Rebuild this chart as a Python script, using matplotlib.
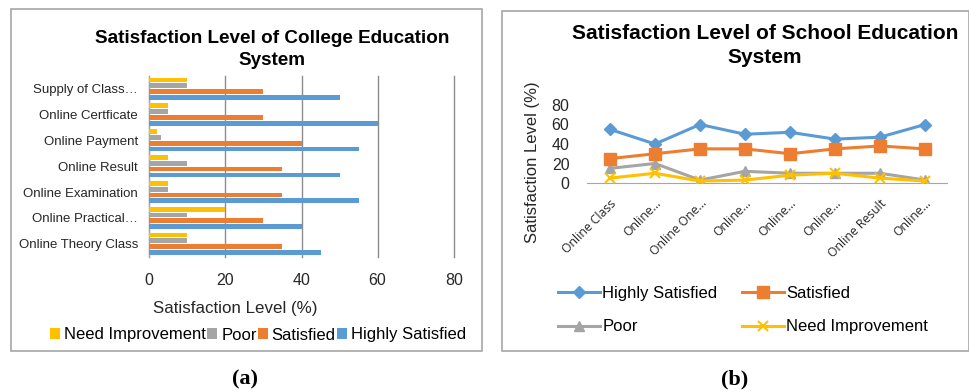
"""
two-panel satisfaction chart: college (bars) and school (lines)
"""

import numpy as np
import matplotlib
matplotlib.use('Agg')
import matplotlib.pyplot as plt
from matplotlib.patches import Rectangle

plt.rcParams['font.family'] = ['Liberation Sans', 'DejaVu Sans']

# college data (bottom to top)
college_cats = ['Online Theory Class', 'Online Practical\u2026', 'Online Examination',
                'Online Result', 'Online Payment', 'Online Certficate', 'Supply of Class\u2026']
college_hs = [45, 40, 55, 50, 55, 60, 50]
college_sat = [35, 30, 35, 35, 40, 30, 30]
college_poor = [10, 10, 5, 10, 3, 5, 10]
college_ni = [10, 20, 5, 5, 2, 5, 10]

# school data
school_cats = ['Online Class', 'Online\u2026', 'Online One\u2026', 'Online\u2026',
               'Online\u2026', 'Online\u2026', 'Online Result', 'Online\u2026']
school_hs = [55, 40, 60, 50, 52, 45, 47, 60]
school_sat = [25, 30, 35, 35, 30, 35, 38, 35]
school_poor = [15, 20, 3, 12, 10, 10, 10, 3]
school_ni = [5, 10, 2, 3, 8, 10, 5, 2]

c_blue = '#5B9BD5'
c_orange = '#ED7D31'
c_gray = '#A5A5A5'
c_yellow = '#FFC000'
c_text = '#262626'

W, H = 970, 392
fig = plt.figure(figsize=(W / 100, H / 100), dpi=100)


def box(x0, y0, x1, y1):
    # pixel box (top-left origin) -> figure fraction
    return [x0 / W, 1 - y1 / H, (x1 - x0) / W, (y1 - y0) / H]


# panel frames
for (x0, y0, x1, y1) in [(11, 9, 482, 351), (502, 11, 969, 351)]:
    fig.add_artist(Rectangle((x0 / W, 1 - y1 / H), (x1 - x0) / W, (y1 - y0) / H,
                             transform=fig.transFigure, fill=False,
                             edgecolor='#A6A6A6', linewidth=1.2))

# ---------- (a) college bar chart ----------
ax1_l, ax1_r = 149.3, 453.7
ax1 = fig.add_axes(box(ax1_l, 75.7, ax1_r, 256.7))
y = np.arange(len(college_cats))
h = 0.225
series = [(college_hs, c_blue, 'Highly Satisfied'),
          (college_sat, c_orange, 'Satisfied'),
          (college_poor, c_gray, 'Poor'),
          (college_ni, c_yellow, 'Need Improvement')]
for i, (vals, col, lab) in enumerate(series):
    ax1.barh(y + (i - 1.5) * h, vals, height=h * 0.82, color=col, label=lab, zorder=3)
ax1.set_xlim(0, 80)
ax1.set_ylim(-0.5, len(college_cats) - 0.5)
ax1.set_xticks([0, 20, 40, 60, 80])
ax1.set_yticks(y)
ax1.set_yticklabels(college_cats, fontsize=9.5, color=c_text)
ax1.tick_params(axis='both', length=0)
ax1.tick_params(axis='y', pad=8)
ax1.tick_params(axis='x', labelsize=11.5, pad=12, labelcolor=c_text)
ax1.grid(axis='x', color='#8C8C8C', linewidth=1.0, zorder=0)
for gl in ax1.get_xgridlines():
    gl.set_clip_on(False)
for s in ['top', 'right', 'bottom']:
    ax1.spines[s].set_visible(False)
ax1.spines['left'].set_color('#A6A6A6')
ax1.set_xlabel('Satisfaction Level (%)', fontsize=12.2, color=c_text)
ax1.xaxis.set_label_coords((235 - ax1_l) / (ax1_r - ax1_l), (256.7 - 301) / 181)
handles, labels = ax1.get_legend_handles_labels()
ax1.legend(handles[::-1], labels[::-1], loc='center',
           bbox_to_anchor=((258 - ax1_l) / (ax1_r - ax1_l), (256.7 - 335) / 181),
           ncol=4, frameon=False, fontsize=12, handlelength=0.6, handleheight=0.6,
           handletextpad=0.25, columnspacing=0.05, borderaxespad=0, borderpad=0)
fig.text(272 / W, 1 - 49.5 / H, 'Satisfaction Level of College Education\nSystem',
         ha='center', va='center', fontsize=13.6, fontweight='bold', linespacing=1.38)

# ---------- (b) school line chart ----------
ax2_l, ax2_r = 587.5, 947.5
ax2 = fig.add_axes(box(ax2_l, 105, ax2_r, 183))
x = np.arange(len(school_cats))
l_hs, = ax2.plot(x, school_hs, color=c_blue, marker='D', markersize=6, linewidth=2.2,
                 label='Highly Satisfied', zorder=4)
l_sat, = ax2.plot(x, school_sat, color=c_orange, marker='s', markersize=8, linewidth=2.2,
                  label='Satisfied', zorder=4)
l_poor, = ax2.plot(x, school_poor, color=c_gray, marker='^', markersize=7, linewidth=2.2,
                   label='Poor', zorder=3)
l_ni, = ax2.plot(x, school_ni, color=c_yellow, marker='x', markersize=7, markeredgewidth=1.5,
                 linewidth=2.2, label='Need Improvement', zorder=3)
ax2.set_xlim(-0.5, len(school_cats) - 0.5)
ax2.set_ylim(0, 80)
ax2.set_yticks([0, 20, 40, 60, 80])
ax2.set_xticks(x)
ax2.set_xticklabels(school_cats, rotation=45, ha='right', rotation_mode='anchor',
                    fontsize=8.8, family=['Open Sans', 'DejaVu Sans'], color=c_text)
ax2.tick_params(axis='both', length=0)
ax2.tick_params(axis='y', labelsize=11.5, pad=13, labelcolor=c_text)
ax2.tick_params(axis='x', pad=10)
for s in ['top', 'right', 'left']:
    ax2.spines[s].set_visible(False)
ax2.spines['bottom'].set_color('#A6A6A6')
ax2.set_ylabel('Satisfaction Level (%)', fontsize=12, color=c_text)
ax2.yaxis.set_label_coords((540 - ax2_l) / (ax2_r - ax2_l), (183 - 162) / 78)
ax2.legend([l_hs, l_poor, l_sat, l_ni],
           ['Highly Satisfied', 'Poor', 'Satisfied', 'Need Improvement'],
           loc='upper left',
           bbox_to_anchor=((558 - ax2_l) / (ax2_r - ax2_l), (183 - 286) / 78),
           ncol=2, frameon=False, fontsize=12, handlelength=2.5, handletextpad=0.15,
           columnspacing=1.5, labelspacing=1.1, borderaxespad=0, borderpad=0)
fig.text(765 / W, 1 - 45.5 / H, 'Satisfaction Level of School Education\nSystem',
         ha='center', va='center', fontsize=15, fontweight='bold', linespacing=1.35)

# panel captions
fig.text(245 / W, 1 - 379 / H, '(a)', ha='center', va='center', fontsize=16,
         fontweight='bold', family=['Liberation Serif', 'DejaVu Serif'])
fig.text(735 / W, 1 - 379 / H, '(b)', ha='center', va='center', fontsize=16,
         fontweight='bold', family=['Liberation Serif', 'DejaVu Serif'])

plt.savefig('out.png', dpi=100)
